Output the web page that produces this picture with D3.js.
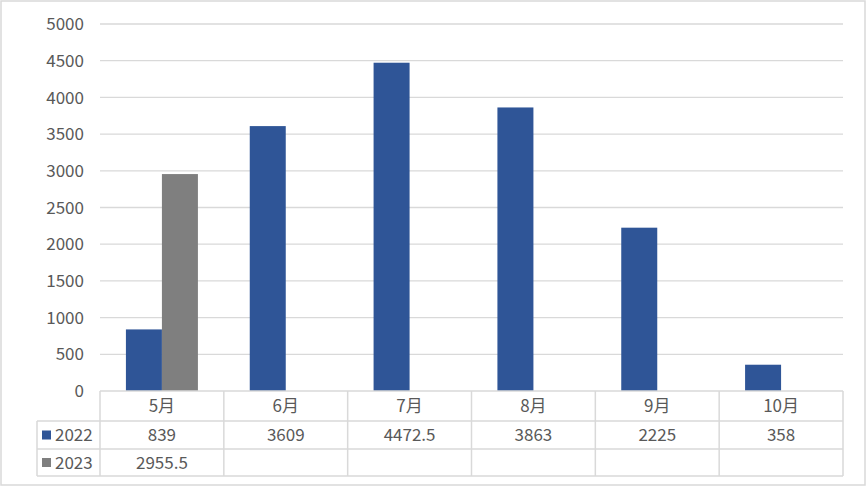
<!DOCTYPE html>
<html>
<head>
<meta charset="utf-8">
<script src="https://cdn.jsdelivr.net/npm/d3@7"></script>
<style>
  body { margin: 0; background: #fff; }
  text { font-family: "Noto Sans CJK SC", "DejaVu Sans", sans-serif; fill: #595959; }
</style>
</head>
<body>
<svg id="chart" width="867" height="487"></svg>
<script>
var months = ["5月", "6月", "7月", "8月", "9月", "10月"];
var seriesNames = ["2022", "2023"];
var values2022 = [839, 3609, 4472.5, 3863, 2225, 358];
var values2023 = [2955.5, null, null, null, null, null];
var yTicks = [0, 500, 1000, 1500, 2000, 2500, 3000, 3500, 4000, 4500, 5000];
var colors = ["#2F5597", "#7F7F7F"];

var svg = d3.select("#chart");
var plotLeft = 100, plotRight = 843, plotTop = 24, plotBottom = 391;
var rowH = [391, 421, 449, 476];
var tableLeft = 37;
var fontSize = "17px";

svg.append("rect")
  .attr("x", 1).attr("y", 1).attr("width", 864).attr("height", 484)
  .attr("fill", "#fff").attr("stroke", "#d9d9d9").attr("stroke-width", 1.5);

var x = d3.scaleBand().domain(months).range([plotLeft, plotRight]);
var y = d3.scaleLinear().domain([0, 5000]).range([plotBottom, plotTop]);

// gridlines
svg.append("g").selectAll("line")
  .data(yTicks.slice(1))
  .enter().append("line")
  .attr("x1", plotLeft).attr("x2", plotRight)
  .attr("y1", function (d) { return y(d); })
  .attr("y2", function (d) { return y(d); })
  .attr("stroke", "#d9d9d9").attr("stroke-width", 1.3);

// y labels
svg.append("g").selectAll("text")
  .data(yTicks)
  .enter().append("text")
  .attr("x", 84)
  .attr("y", function (d) { return y(d); })
  .attr("dy", "0.36em")
  .attr("text-anchor", "end")
  .attr("font-size", fontSize)
  .text(function (d) { return d; });

// bars
var barW = 36;
var series = [values2022, values2023];
series.forEach(function (vals, s) {
  svg.append("g").selectAll("rect")
    .data(vals.map(function (v, i) { return { m: months[i], v: v }; }).filter(function (d) { return d.v != null; }))
    .enter().append("rect")
    .attr("x", function (d) { return x(d.m) + x.bandwidth() / 2 - barW + s * barW; })
    .attr("y", function (d) { return y(d.v); })
    .attr("width", barW)
    .attr("height", function (d) { return y(0) - y(d.v); })
    .attr("fill", colors[s]);
});

// data table
var grid = svg.append("g").attr("stroke", "#d9d9d9").attr("stroke-width", 1.5).attr("fill", "none");
grid.append("line").attr("x1", plotLeft).attr("x2", plotRight).attr("y1", rowH[0]).attr("y2", rowH[0]);
[1, 2, 3].forEach(function (r) {
  grid.append("line").attr("x1", tableLeft).attr("x2", plotRight).attr("y1", rowH[r]).attr("y2", rowH[r]);
});
grid.append("line").attr("x1", tableLeft).attr("x2", tableLeft).attr("y1", rowH[1]).attr("y2", rowH[3]);
months.forEach(function (m) {
  grid.append("line").attr("x1", x(m)).attr("x2", x(m)).attr("y1", rowH[0]).attr("y2", rowH[3]);
});
grid.append("line").attr("x1", plotRight).attr("x2", plotRight).attr("y1", rowH[0]).attr("y2", rowH[3]);

svg.append("g").selectAll("text")
  .data(months)
  .enter().append("text")
  .attr("x", function (d) { return x(d) + x.bandwidth() / 2; })
  .attr("y", (rowH[0] + rowH[1]) / 2)
  .attr("dy", "0.36em")
  .attr("text-anchor", "middle")
  .attr("font-size", fontSize)
  .text(function (d) { return d; });

series.forEach(function (vals, s) {
  var cy = (rowH[s + 1] + rowH[s + 2]) / 2;
  svg.append("rect")
    .attr("x", 42).attr("y", cy - 4.5).attr("width", 9).attr("height", 9)
    .attr("fill", colors[s]);
  svg.append("text")
    .attr("x", 55).attr("y", cy).attr("dy", "0.36em")
    .attr("font-size", fontSize)
    .text(seriesNames[s]);
  svg.append("g").selectAll("text")
    .data(vals.map(function (v, i) { return { m: months[i], v: v }; }).filter(function (d) { return d.v != null; }))
    .enter().append("text")
    .attr("x", function (d) { return x(d.m) + x.bandwidth() / 2; })
    .attr("y", cy).attr("dy", "0.36em")
    .attr("text-anchor", "middle")
    .attr("font-size", fontSize)
    .text(function (d) { return d.v; });
});
</script>
</body>
</html>
